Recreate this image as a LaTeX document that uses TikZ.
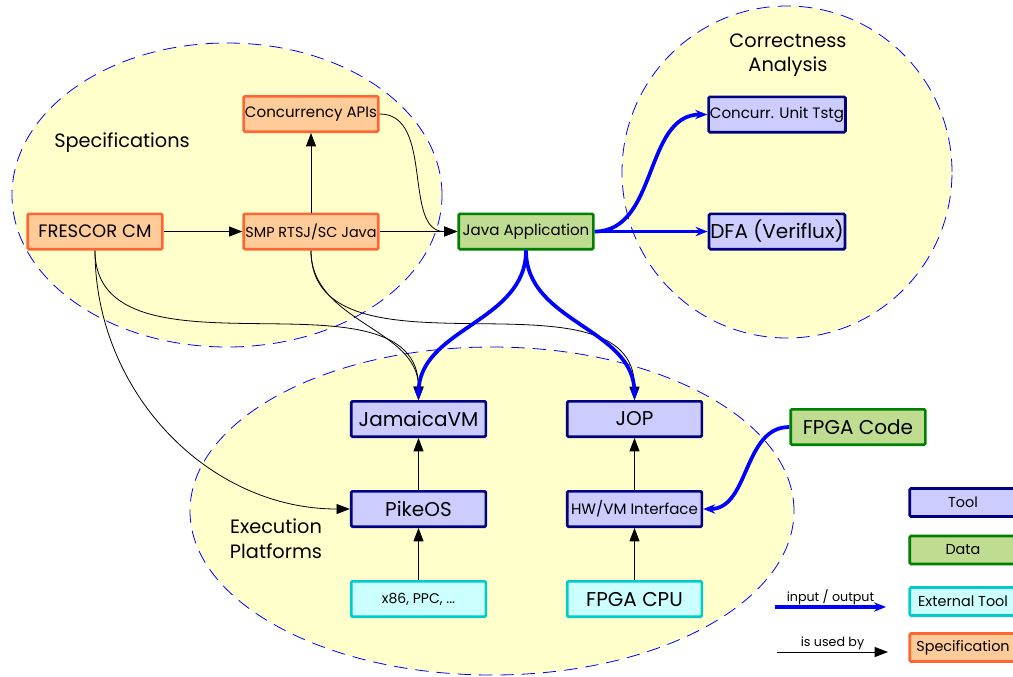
\documentclass[tikz,border=0pt]{standalone}
\usepackage{fontspec}
\setmainfont{Poppins}
\usetikzlibrary{arrows.meta}

\definecolor{specfill}{HTML}{FFCC99}
\definecolor{specline}{HTML}{FF6633}
\definecolor{datafill}{HTML}{C0DC90}
\definecolor{dataline}{HTML}{008000}
\definecolor{toolfill}{HTML}{CCCCFF}
\definecolor{toolline}{HTML}{000080}
\definecolor{extfill}{HTML}{CCFFFF}
\definecolor{extline}{HTML}{00CCCC}
\definecolor{areafill}{HTML}{FFFFCC}

\begin{document}
\begin{tikzpicture}[
    x=0.75pt, y=-0.75pt,
    node distance=67.5pt,
    box/.style={rectangle, draw, line width=2pt, rounded corners=1pt, minimum width=101pt, minimum height=26.5pt, inner sep=1pt, text centered},
    spec/.style={box, fill=specfill, draw=specline},
    datanode/.style={box, fill=datafill, draw=dataline},
    tool/.style={box, fill=toolfill, draw=toolline},
    exttool/.style={box, fill=extfill, draw=extline},
    legendbox/.style={minimum width=80pt, minimum height=21pt, font=\fontsize{10.8}{12}\selectfont},
    area/.style={fill=areafill, draw=blue, dash pattern=on 10pt off 6pt, line width=0.6pt},
    bigtext/.style={font=\fontsize{15}{17}\selectfont},
    midtext/.style={font=\fontsize{11.3}{13}\selectfont},
    smalltext/.style={font=\fontsize{10.5}{12}\selectfont},
    labeltext/.style={font=\fontsize{9.5}{11}\selectfont},
    areatext/.style={font=\fontsize{14.5}{18.5}\selectfont, align=center},
    uses/.style={-{Triangle[length=10pt,width=7.5pt]}, line width=0.6pt},
    io/.style={-{Stealth[length=9pt,width=7pt]}, blue, line width=2.8pt}
]
    \useasboundingbox (0,0) rectangle (1013,676);

    % areas
    \draw [area] (227,195) ellipse [x radius=161.25pt, y radius=114pt];
    \draw [area] (787,172) ellipse [x radius=123.75pt, y radius=124.5pt];
    \draw [area] (492,511) ellipse [x radius=226.5pt, y radius=123pt];

    \node [areatext] (spectitle) at (122,143) {Specifications};
    \node [areatext] (corrtitle) at (788,55) {Correctness\\Analysis};
    \node [areatext] (exectitle) at (276,539) {Execution\\Platforms};

    % specifications
    \node [spec, bigtext, font=\fontsize{13.5}{15}\selectfont] (frescor) at (95,231.5) {FRESCOR CM};
    \node [spec, midtext, font=\fontsize{10.8}{13}\selectfont] (smp) at (311,231.5) {SMP RTSJ/SC Java};
    \node [spec, midtext] (capis) at (311,114) {Concurrency APIs};

    \node [datanode, midtext] (javaapp) at (526,231.5) {Java Application};

    % correctness analysis
    \node [tool, midtext] (unittest) at (777,114.5) {Concurr. Unit Tstg};
    \node [tool, bigtext] (dfa) at (777,231.5) {DFA (Veriflux)};

    % execution platforms
    \node [tool, bigtext] (jamaica) at (418.5,419) {JamaicaVM};
    \node [tool, bigtext, below of=jamaica] (pikeos) {PikeOS};
    \node [exttool, smalltext, below of=pikeos] (x86) {x86, PPC, ...};
    \node [tool, bigtext] (jop) at (634.5,419) {JOP};
    \node [tool, midtext, below of=jop] (hwvm) {HW/VM Interface};
    \node [exttool, bigtext, below of=hwvm] (fpgacpu) {FPGA CPU};

    \node [datanode, bigtext] (fpgacode) at (858,427) {FPGA Code};

    % legend
    \node [tool, legendbox] (legtool) at (963,502.5) {Tool};
    \node [datanode, legendbox] (legdata) at (963,550) {Data};
    \node [exttool, legendbox] (legext) at (963,601.5) {External Tool};
    \node [spec, legendbox] (legspec) at (963,647.5) {Specification};
    \coordinate (ioa) at (775,607);
    \coordinate (iob) at (886,607);
    \coordinate (usea) at (777,652);
    \coordinate (useb) at (888,652);

    \draw [uses] (frescor) -- (smp);
    \draw [uses] (smp) -- (capis);
    \draw [uses] (smp) -- (javaapp);
    \draw [uses] (capis.east) to[out=0, in=180] (javaapp.west);
    \draw [uses] (frescor.south) to[out=-90, in=90] (jamaica.north);
    \draw [uses] (frescor.south) to[out=-90, in=180] (pikeos.west);
    \draw [uses] (smp.south) to[out=-90, in=90] (jamaica.north);
    \draw [uses] (smp.south) to[out=-90, in=90] (jop.north);
    \draw [uses] (pikeos) -- (jamaica);
    \draw [uses] (x86) -- (pikeos);
    \draw [uses] (hwvm) -- (jop);
    \draw [uses] (fpgacpu) -- (hwvm);

    \draw [io] (javaapp.east) to[out=0, in=180] (unittest.west);
    \draw [io] (javaapp) -- (dfa);
    \draw [io] (javaapp.south) to[out=-90, in=90] (jamaica.north);
    \draw [io] (javaapp.south) to[out=-90, in=90] (jop.north);
    \draw [io] (fpgacode.west) to[out=180, in=0] (hwvm.east);

    \draw [io] (ioa) -- node [above, inner sep=0.5pt, labeltext, black] {input / output} (iob);
    \draw [uses] (usea) -- node [above, inner sep=1.5pt, labeltext] {is used by} (useb);
\end{tikzpicture}
\end{document}
